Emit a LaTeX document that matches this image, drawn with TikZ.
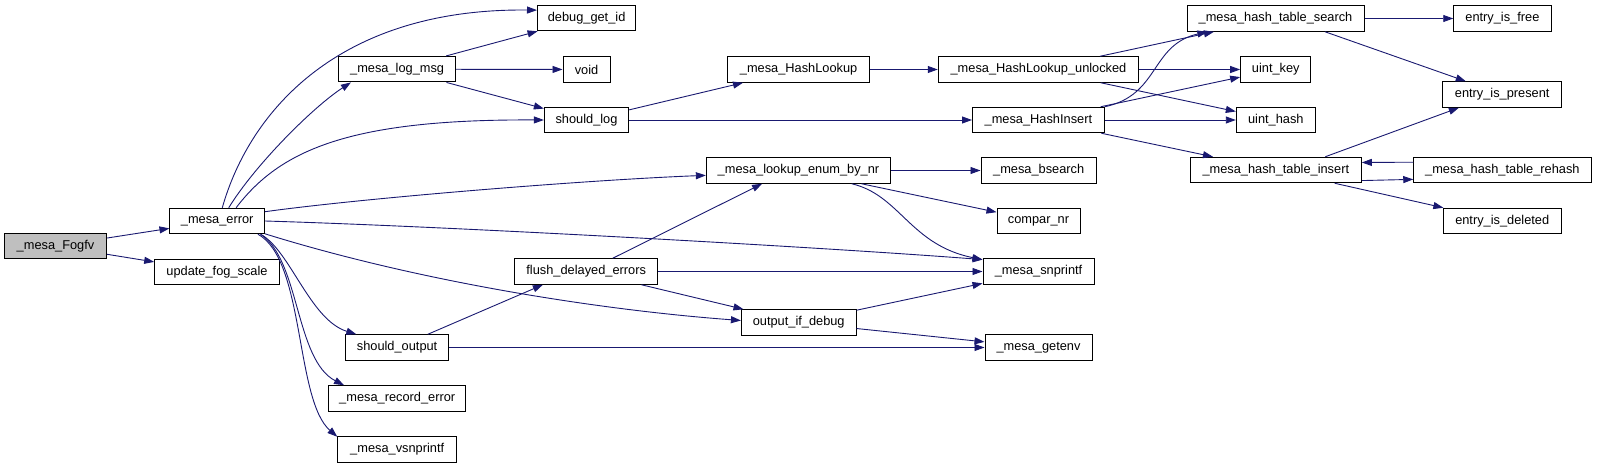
\documentclass[tikz,border=0pt]{standalone}
\usepackage{fontspec}
\setmainfont{Liberation Sans}
\usepackage{tikz}
\usetikzlibrary{arrows.meta}
\definecolor{midnight}{RGB}{25,25,112}
\definecolor{rootgray}{RGB}{191,191,191}
\newcommand{\graphfont}{\fontsize{12.8}{14}\selectfont}
\tikzset{
  fn/.style={draw=black,line width=1pt,fill=white,minimum width=#1,minimum height=25.5pt,inner sep=0pt,font=\graphfont},
  root/.style={fn=#1,fill=rootgray},
  call/.style={-{Triangle[length=10pt,width=7pt]},draw=midnight,line width=0.9pt}
}

\begin{document}
\begin{tikzpicture}[x=1pt,y=-1pt]
\useasboundingbox (0,0) rectangle (1597,468);
\node[root=102pt] (fogfv) at (55.5,246) {\_mesa\_Fogfv};
\node[fn=94.5pt] (err) at (217.2,221) {\_mesa\_error};
\node[fn=124.6pt] (fogscale) at (217,272) {update\_fog\_scale};
\node[fn=98.2pt] (dbgid) at (586.6,18) {debug\_get\_id};
\node[fn=117.2pt] (logmsg) at (397.1,69.2) {\_mesa\_log\_msg};
\node[fn=47pt] (void) at (586.5,69.5) {void};
\node[fn=84.3pt] (shlog) at (586.5,120) {should\_log};
\node[fn=102.8pt] (shout) at (397.1,347.5) {should\_output};
\node[fn=137.5pt] (recerr) at (397.2,398.5) {\_mesa\_record\_error};
\node[fn=118.8pt] (vsnpr) at (397.2,449.5) {\_mesa\_vsnprintf};
\node[fn=143.3pt] (flush) at (586.2,271.5) {flush\_delayed\_errors};
\node[fn=141.4pt] (hlook) at (798.6,69.5) {\_mesa\_HashLookup};
\node[fn=184.3pt] (enumnr) at (798.5,170.5) {\_mesa\_lookup\_enum\_by\_nr};
\node[fn=114.6pt] (outdbg) at (798.7,322.5) {output\_if\_debug};
\node[fn=200.5pt] (hlookul) at (1038.5,69.5) {\_mesa\_HashLookup\_unlocked};
\node[fn=131.8pt] (hinsert) at (1038.4,120) {\_mesa\_HashInsert};
\node[fn=115.4pt] (bsearch) at (1038.7,170.5) {\_mesa\_bsearch};
\node[fn=83pt] (compar) at (1038.5,221) {compar\_nr};
\node[fn=111pt] (snpr) at (1038.5,271.5) {\_mesa\_snprintf};
\node[fn=107pt] (getenv) at (1038.5,347.5) {\_mesa\_getenv};
\node[fn=177pt] (tsearch) at (1275.5,18.5) {\_mesa\_hash\_table\_search};
\node[fn=70.3pt] (ukey) at (1275.8,69.5) {uint\_key};
\node[fn=79pt] (uhash) at (1275.8,120) {uint\_hash};
\node[fn=171pt] (tinsert) at (1275.8,170) {\_mesa\_hash\_table\_insert};
\node[fn=97.3pt] (isfree) at (1502.4,18.5) {entry\_is\_free};
\node[fn=119pt] (ispresent) at (1502.2,94.5) {entry\_is\_present};
\node[fn=177.3pt] (rehash) at (1502.4,170) {\_mesa\_hash\_table\_rehash};
\node[fn=117.7pt] (isdeleted) at (1502.2,221) {entry\_is\_deleted};
\draw[call] (fogfv) -- (err);
\draw[call] (fogfv) -- (fogscale);
\draw[call] (err.69) .. controls (250,110) and (340,8) .. (dbgid.171);
\draw[call] (err.49) .. controls (255,165) and (313,107) .. (logmsg.196);
\draw[call] (err.35) .. controls (280,150) and (350,119) .. (shlog.west);
\draw[call] (err.11) .. controls (364,198) and (586,180) .. (enumnr.183);
\draw[call] (err.east) .. controls (464,227) and (833,248) .. (snpr.168);
\draw[call] (err.-15) .. controls (420,282) and (600,310) .. (outdbg.178);
\draw[call] (err.-17) .. controls (290,250) and (310,320) .. (shout.162);
\draw[call] (err.-17) .. controls (300,260) and (295,360) .. (recerr.166);
\draw[call] (err.-18) .. controls (305,260) and (295,400) .. (vsnpr.168);
\draw[call] (logmsg) -- (dbgid);
\draw[call] (logmsg) -- (void);
\draw[call] (logmsg) -- (shlog);
\draw[call] (shlog) -- (hlook);
\draw[call] (shlog) -- (hinsert);
\draw[call] (hlook) -- (hlookul);
\draw[call] (hlookul) -- (tsearch);
\draw[call] (hlookul) -- (ukey);
\draw[call] (hlookul) -- (uhash);
\draw[call] (hinsert.north east) .. controls (1160,95) and (1150,45) .. (tsearch.191);
\draw[call] (hinsert) -- (ukey);
\draw[call] (hinsert) -- (uhash);
\draw[call] (hinsert) -- (tinsert);
\draw[call] (tsearch) -- (isfree);
\draw[call] (tsearch.-15) -- (ispresent.160);
\draw[call] (tinsert.15) -- (ispresent.197);
\draw[call] (tinsert.-7) -- (rehash.186);
\draw[call] (rehash.175) -- (tinsert.5.5);
\draw[call] (tinsert) -- (isdeleted);
\draw[call] (enumnr) -- (bsearch);
\draw[call] (enumnr) -- (compar);
\draw[call] (enumnr.-14) .. controls (900,195) and (910,245) .. (snpr.168);
\draw[call] (flush) -- (enumnr.200);
\draw[call] (flush) -- (snpr);
\draw[call] (flush) -- (outdbg);
\draw[call] (shout) -- (flush.197);
\draw[call] (shout) -- (getenv);
\draw[call] (outdbg) -- (snpr);
\draw[call] (outdbg) -- (getenv);
\end{tikzpicture}
\end{document}
